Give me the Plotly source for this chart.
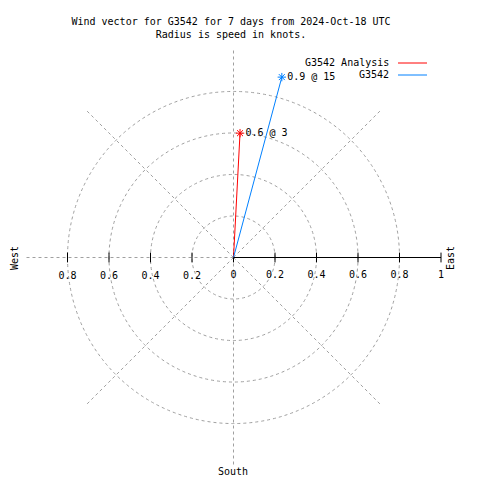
import plotly.graph_objects as go

# ---- data ----
series_names = ["G3542 Analysis", "G3542"]
series_colors = ["#ff0000", "#0080ff"]
speeds = [0.6, 0.9]          # knots
directions = [3, 15]         # degrees (clockwise from north)

east_tick_vals = [0, 0.2, 0.4, 0.6, 0.8, 1]
east_tick_text = ["0", "0.2", "0.4", "0.6", "0.8", "1"]
west_tick_vals = [0.2, 0.4, 0.6, 0.8]
west_tick_text = ["0.2", "0.4", "0.6", "0.8"]

compass_labels = ["West", "East", "South"]
title_lines = ["Wind vector for G3542 for 7 days from 2024-Oct-18 UTC",
               "Radius is speed in knots."]

FONT = "DejaVu Sans Mono"
GRID = "#a0a0a0"
W, H = 480, 480
ML, MR, MT, MB = 26, 39, 50, 15
PW, PH = W - ML - MR, H - MT - MB


def px(x, y):
    return (x - ML) / PW, 1 - (y - MT) / PH


fig = go.Figure()

# tick marks on both half-axes
tick_r = east_tick_vals + west_tick_vals
tick_t = [90] * len(east_tick_vals) + [270] * len(west_tick_vals)
fig.add_trace(go.Scatterpolar(
    r=tick_r, theta=tick_t, mode="markers", showlegend=False, hoverinfo="skip",
    marker=dict(symbol="line-ns-open", size=7, color="black",
                line=dict(color="black", width=1)),
    subplot="polar"))

# west-side tick labels
fig.add_trace(go.Scatterpolar(
    r=west_tick_vals, theta=[270] * len(west_tick_vals), mode="markers+text",
    text=west_tick_text, textposition="bottom center", showlegend=False,
    hoverinfo="skip", marker=dict(size=20, opacity=0),
    textfont=dict(family=FONT, size=10, color="black"), subplot="polar"))

for name, col, s, d in zip(series_names, series_colors, speeds, directions):
    fig.add_trace(go.Scatterpolar(
        r=[0, s], theta=[d, d], mode="lines", name=name,
        line=dict(color=col, width=1), showlegend=False, subplot="polar"))
    fig.add_trace(go.Scatterpolar(
        r=[s], theta=[d], mode="markers+text", text=[f"{s} @ {d}"],
        textposition="middle right", showlegend=False,
        textfont=dict(family=FONT, size=10, color="black"),
        marker=dict(symbol="asterisk-open", size=7, color=col,
                    line=dict(color=col, width=1)),
        subplot="polar"))

fig.update_layout(
    width=W, height=H, template="none",
    paper_bgcolor="white", plot_bgcolor="white",
    margin=dict(l=ML, r=MR, t=MT, b=MB),
    font=dict(family=FONT, size=10, color="black"),
    showlegend=False,
    title=dict(text="<br>".join(title_lines), xref="container", x=231 / W,
               xanchor="center", yref="container", y=1 - 25 / H, yanchor="top",
               font=dict(family=FONT, size=10, color="black")),
    polar=dict(
        domain=dict(x=[0, 1], y=[0, 1]), bgcolor="white",
        radialaxis=dict(range=[0, 1], angle=0, tickvals=east_tick_vals,
                        ticktext=east_tick_text, showline=True,
                        linecolor="black", linewidth=1, ticks="outside",
                        ticklen=8, tickcolor="rgba(0,0,0,0)",
                        showgrid=True, gridcolor=GRID, griddash="3px,3px",
                        gridwidth=1,
                        tickfont=dict(family=FONT, size=10, color="black")),
        angularaxis=dict(dtick=45, showgrid=True, gridcolor=GRID,
                         griddash="3px,3px", gridwidth=1, rotation=90,
                         direction="clockwise", showline=False,
                         showticklabels=False, ticks=""),
    ),
)

# compass labels
cx, cy = px(14, 258)
fig.add_annotation(x=cx, y=cy, xref="paper", yref="paper", text=compass_labels[0],
                   xanchor="center", yanchor="middle",
                   textangle=-90, showarrow=False, font=dict(family=FONT, size=10))
cx, cy = px(450, 258)
fig.add_annotation(x=cx, y=cy, xref="paper", yref="paper", text=compass_labels[1],
                   xanchor="center", yanchor="middle",
                   textangle=-90, showarrow=False, font=dict(family=FONT, size=10))
cx, cy = px(233, 471)
fig.add_annotation(x=cx, y=cy, xref="paper", yref="paper", text=compass_labels[2],
                   xanchor="center", yanchor="middle",
                   showarrow=False, font=dict(family=FONT, size=10))

# legend (text then sample line, gnuplot style)
for i, (name, col) in enumerate(zip(series_names, series_colors)):
    yy = 63 + 12 * i
    tx, ty = px(391, yy)
    fig.add_annotation(x=tx, y=ty, xref="paper", yref="paper", text=name,
                       xanchor="right", yanchor="middle", showarrow=False,
                       font=dict(family=FONT, size=10))
    x0, y0 = px(398, yy)
    x1, _ = px(427, yy)
    fig.add_shape(type="line", xref="paper", yref="paper", x0=x0, x1=x1,
                  y0=y0, y1=y0, line=dict(color=col, width=1))

fig.write_html("out.html", config={"displayModeBar": False},
               post_script="document.body.style.margin='0';")
